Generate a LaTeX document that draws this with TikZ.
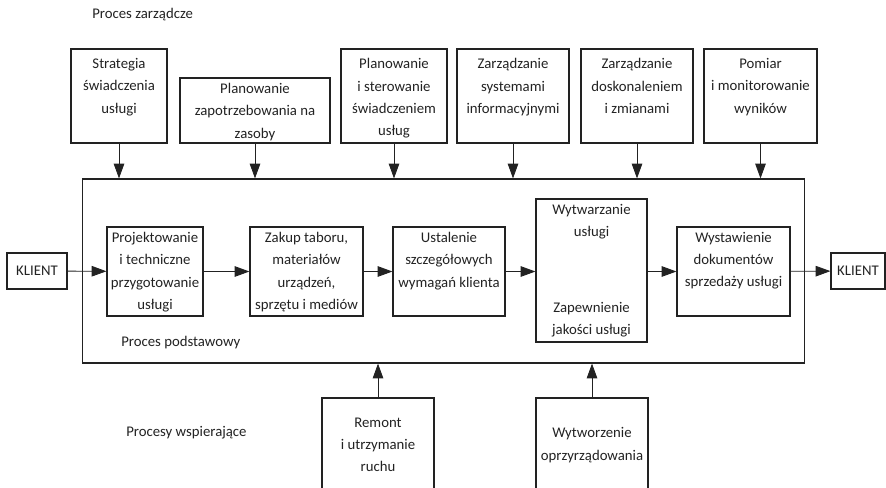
\documentclass[tikz,border=0pt]{standalone}
\usepackage{fontspec}
\setmainfont{Carlito}
\usetikzlibrary{arrows.meta,positioning}
\definecolor{ink}{HTML}{222222}

\begin{document}
\begin{tikzpicture}[x=0.025cm, y=-0.025cm,
  font=\fontsize{10.5pt}{15.8pt}\selectfont, text=ink,
  blk/.style={draw=ink, line width=0.8pt, inner sep=0pt, align=center},
  intxt/.style={anchor=north, align=center, inner sep=0pt, yshift=-4pt},
  toptxt/.style={intxt, yshift=-3pt},
  bottxt/.style={anchor=south, align=center, inner sep=0pt, yshift=3.5pt},
  fl/.style={-{Triangle[length=10.5pt, width=7.5pt]}, ink, line width=0.6pt},
  hdr/.style={anchor=west, inner sep=0pt}]
\clip (0,0) rectangle (886,487);

% ================================================ procesy zarzadcze
\node[hdr] (tzarz) at (92,15) {Proces zarządcze};
\node[blk, minimum width=2.4cm, minimum height=2.35cm,
      label={[toptxt]north:{Strategia\\świadczenia\\usługi}}] (strat) at (119,96) {};
\node[blk, minimum width=3.75cm, minimum height=1.625cm,
      label={[intxt]north:{Planowanie\\zapotrzebowania na\\zasoby}}] (zapot) at (255,110.5) {};
\node[blk, minimum width=2.65cm, minimum height=2.35cm,
      label={[toptxt]north:{Planowanie\\i sterowanie\\świadczeniem\\usług}}] (sterow) at (394,96) {};
\node[blk, minimum width=2.8cm, minimum height=2.35cm,
      label={[toptxt]north:{Zarządzanie\\systemami\\informacyjnymi}}] (sysinf) at (513,96) {};
\node[blk, minimum width=2.8cm, minimum height=2.35cm,
      label={[toptxt]north:{Zarządzanie\\doskonaleniem\\i zmianami}}] (dosk) at (637,96) {};
\node[blk, minimum width=2.825cm, minimum height=2.35cm,
      label={[toptxt]north:{Pomiar\\i monitorowanie\\wyników}}] (pomiar) at (760.5,96) {};

% ================================================ proces podstawowy
\node[blk, minimum width=18.025cm, minimum height=4.6cm] (core) at (443.5,271) {};
\node[hdr] (tpodst) at (121,343) {Proces podstawowy};

\node[blk, minimum width=1.5cm, minimum height=0.9cm] (klin) at (37,271) {KLIENT};
\node[blk, minimum width=2.4cm, minimum height=2.225cm,
      label={[intxt]north:{Projektowanie\\i techniczne\\przygotowanie\\usługi}}] (proj) at (155,271.5) {};
\node[blk, minimum width=2.825cm, minimum height=2.225cm,
      label={[intxt]north:{Zakup taboru,\\materiałów\\urządzeń,\\sprzętu i mediów}}] (zakup) at (306.5,271.5) {};
\node[blk, minimum width=2.8cm, minimum height=2.225cm,
      label={[intxt]north:{Ustalenie\\szczegółowych\\wymagań klienta}}] (ustal) at (449,271.5) {};
\node[blk, minimum width=2.775cm, minimum height=3.575cm,
      label={[intxt]north:{Wytwarzanie\\usługi}},
      label={[bottxt]south:{Zapewnienie\\jakości usługi}}] (wytw) at (591.5,270.5) {};
\node[blk, minimum width=2.825cm, minimum height=2.225cm,
      label={[intxt]north:{Wystawienie\\dokumentów\\sprzedaży usługi}}] (wyst) at (733.5,271.5) {};
\node[blk, minimum width=1.35cm, minimum height=0.9cm] (klout) at (858,271) {KLIENT};

% ================================================ procesy wspierajace
\node[hdr] (twsp) at (126,433) {Procesy wspierające};
\node[blk, minimum width=2.8cm, minimum height=2.35cm] (remont) at (378,445)
  {Remont\\i utrzymanie\\ruchu};
\node[blk, minimum width=2.8cm, minimum height=2.35cm] (oprz) at (592,445)
  {Wytworzenie\\oprzyrządowania};

% ================================================ przeplywy
\foreach \b in {strat,zapot,sterow,sysinf,dosk,pomiar}
  \draw[fl] (\b.south) -- (\b.south |- core.north);
\draw[fl] (klin) -- (proj);
\draw[fl] (proj) -- (zakup);
\draw[fl] (zakup) -- (ustal);
\draw[fl] (ustal) -- (ustal -| wytw.west);
\draw[fl] (wyst -| wytw.east) -- (wyst);
\draw[fl] (wyst) -- (klout);
\draw[fl] (remont.north) -- (remont.north |- core.south);
\draw[fl] (oprz.north) -- (oprz.north |- core.south);

\end{tikzpicture}
\end{document}
